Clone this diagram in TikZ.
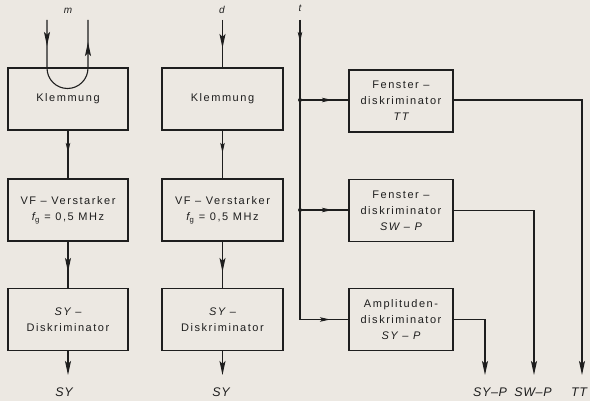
\documentclass[tikz,border=0pt]{standalone}
\usepackage{fontspec}
\setmainfont{Liberation Sans}[LetterSpace=14]
\newfontfamily\lblfont{Liberation Sans}[LetterSpace=5]
\usetikzlibrary{arrows.meta,decorations.markings}
\definecolor{ink}{HTML}{1E1E1E}
\definecolor{paper}{HTML}{ECE8E2}
\tikzset{
  box/.style={draw=ink, line width=1.8pt, minimum width=120pt, minimum height=62pt,
    inner sep=0pt, align=center, text=ink, font=\fontsize{11}{16}\selectfont},
  rbox/.style={box, minimum width=104pt},
  conn/.style={draw=ink, line width=1.1pt},
  outlbl/.style={text=ink, font=\lblfont\fontsize{12.5}{14}\selectfont\itshape, inner sep=0pt},
  toplbl/.style={text=ink, font=\lblfont\fontsize{10}{10}\selectfont\itshape, inner sep=0pt},
  bigtip/.style={postaction={decorate}, decoration={markings,
    mark=at position #1 with {\arrow{Stealth[length=14pt,width=6pt,inset=3pt]}}}},
  smalltip/.style={postaction={decorate}, decoration={markings,
    mark=at position #1 with {\arrow{Stealth[length=10pt,width=4.5pt,inset=2pt]}}}},
  endtip/.style={-{Stealth[length=14pt,width=6pt,inset=3pt]}},
  jdot/.style={circle, fill=ink, inner sep=0pt, minimum size=4pt},
}
\begin{document}
\begin{tikzpicture}[x=1pt, y=-1pt]
  \useasboundingbox[fill=paper] (0,0) rectangle (590,401);

  % left column
  \node[box] (k1) at (68,99) {Klemmung};
  \node[box] (v1) at (68,210) {VF – Verstarker\\{\itshape f}\textsubscript{g} = 0,5 MHz};
  \node[box] (s1) at (68,319.5) {{\itshape SY} –\\Diskriminator};

  % middle column
  \node[box, minimum width=121pt] (k2) at (222.5,99) {Klemmung};
  \node[box, minimum width=121pt] (v2) at (222.5,210) {VF – Verstarker\\{\itshape f}\textsubscript{g} = 0,5 MHz};
  \node[box, minimum width=121pt] (s2) at (222.5,319.5) {{\itshape SY} –\\Diskriminator};

  % right column
  \node[rbox] (f1) at (401,101) {Fenster –\\diskriminator\\{\itshape TT}};
  \node[rbox] (f2) at (401,210.5) {Fenster –\\diskriminator\\{\itshape SW – P}};
  \node[rbox] (a3) at (401,319.5) {Amplituden-\\diskriminator\\{\itshape SY – P}};

  % top labels and inputs
  \node[toplbl] (lm) at (68,11) {m};
  \node[toplbl] (ld) at (222,10) {d};
  \node[toplbl] (lt) at (300,8) {t};
  \coordinate (m1) at (47,20);
  \coordinate (m2) at (88,20);
  \coordinate (din) at (222.5,20);
  \coordinate (tin) at (300,20);

  % m loop
  \draw[conn, postaction={decorate}, decoration={markings,
      mark=at position 26pt with {\arrow{Stealth[length=14pt,width=6pt,inset=3pt]}},
      mark=at position -22pt with {\arrow{Stealth[length=14pt,width=6pt,inset=3pt]}}}]
    (m1) -- (47,68) arc[start angle=180, end angle=360, radius=20.5pt] -- (m2);

  % d input
  \draw[conn, bigtip=28pt] (din) -- (k2.north);

  % left chain
  \draw[conn, smalltip=22pt] (k1.south) -- (v1.north);
  \draw[conn, bigtip=30pt] (v1.south) -- (s1.north);
  \coordinate (o1) at (68,375);
  \draw[conn, endtip] (s1.south) -- (o1);
  \node[outlbl] (lsy1) at (64,392) {SY};

  % middle chain
  \draw[conn, smalltip=22pt] (k2.south) -- (v2.north);
  \draw[conn, bigtip=30pt] (v2.south) -- (s2.north);
  \coordinate (o2) at (222.5,375);
  \draw[conn, endtip] (s2.south) -- (o2);
  \node[outlbl] (lsy2) at (221,392) {SY};

  % t trunk
  \coordinate (j1) at (300,100);
  \coordinate (j2) at (300,210);
  \draw[conn, smalltip=22pt] (tin) |- (a3.west);
  \draw[conn, smalltip=32pt] (j1) -- (j1 -| f1.west);
  \draw[conn, smalltip=32pt] (j2) -- (j2 -| f2.west);
  \node[jdot] (d1) at (j1) {};
  \node[jdot] (d2) at (j2) {};
  \draw[conn, smalltip=30pt] (300,319.5) -- (a3.west);

  % outputs right
  \coordinate (o3) at (485,375);
  \coordinate (o4) at (534,375);
  \coordinate (o5) at (582,375);
  \draw[conn, endtip] (a3.east) -| (o3);
  \draw[conn, endtip] (f2.east) -| (o4);
  \draw[conn, endtip] (j1 -| f1.east) -| (o5);
  \node[outlbl] (lo3) at (490,392) {SY–P};
  \node[outlbl] (lo4) at (533,392) {SW–P};
  \node[outlbl] (lo5) at (579,392) {TT};
\end{tikzpicture}
\end{document}
